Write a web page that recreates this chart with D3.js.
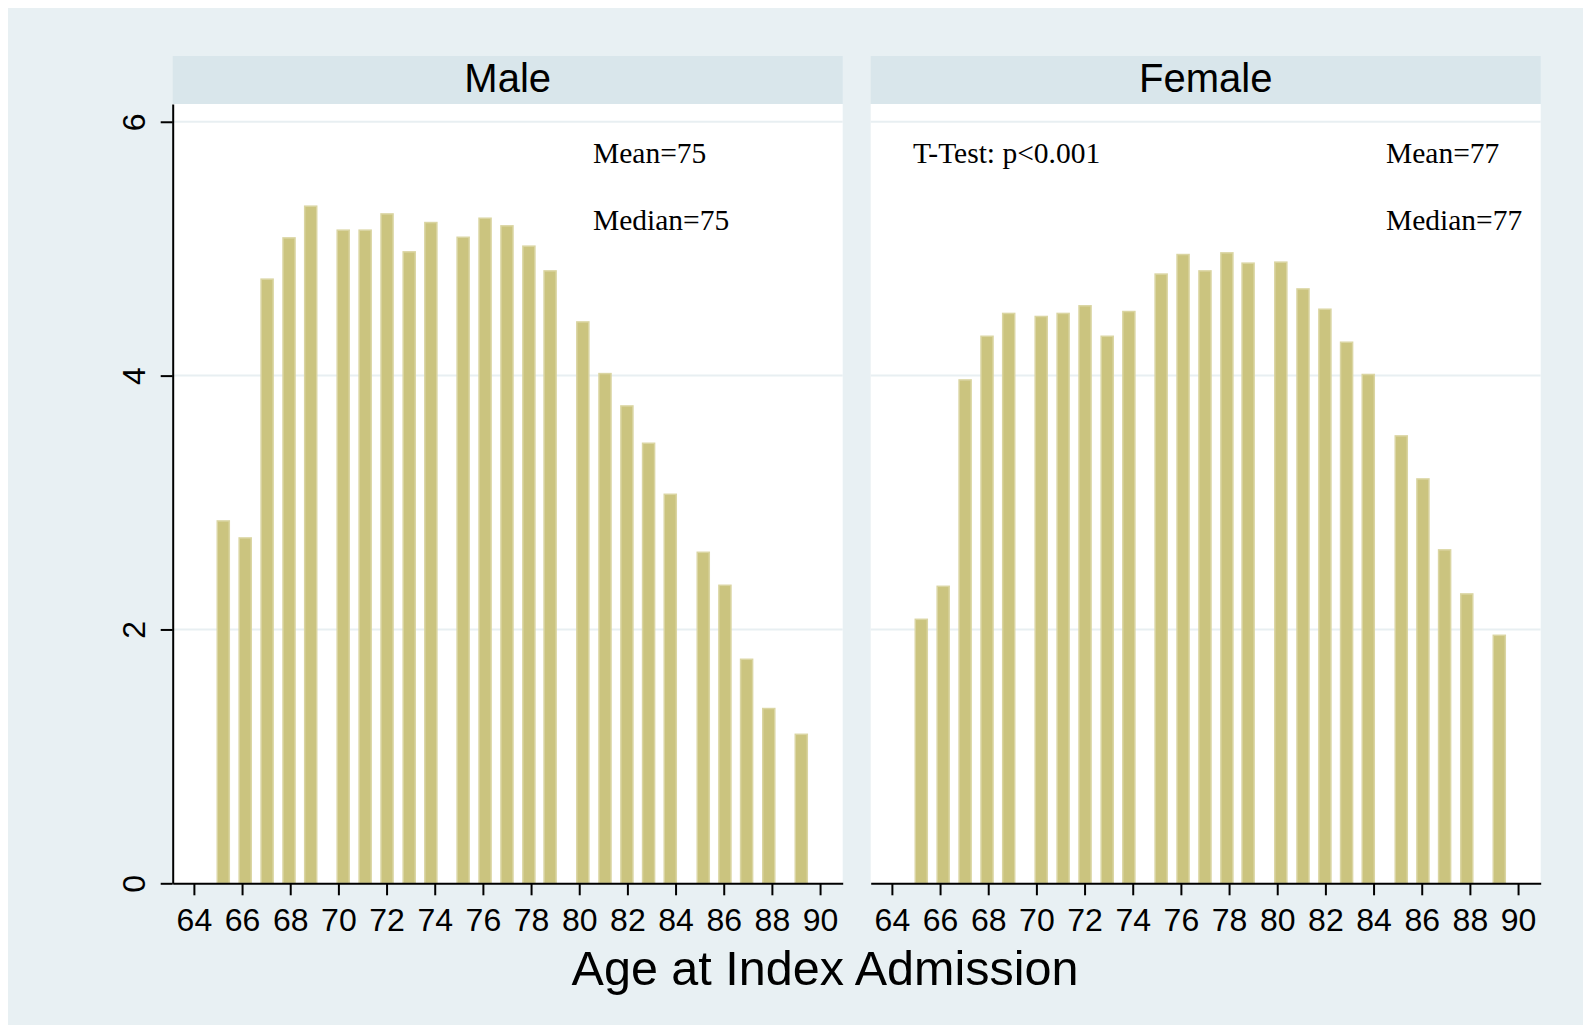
<!DOCTYPE html>
<html>
<head>
<meta charset="utf-8">
<title>Age at Index Admission</title>
<script src="https://d3js.org/d3.v7.min.js"></script>
<style>
  html, body { margin: 0; padding: 0; background: #fff; }
  svg { display: block; }
</style>
</head>
<body>
<div id="chart"></div>
<script>
// bin centres (age), shared by both panels
var binMid = [65.22, 66.13, 67.04, 67.95, 68.85, 70.2, 71.11, 72.02, 72.94, 73.84,
              75.18, 76.09, 77.0, 77.91, 78.79, 80.15, 81.07, 81.98, 82.88, 83.78,
              85.15, 86.05, 86.95, 87.87, 89.22];

// percent per bin
var maleVals = [2.855, 2.721, 4.76, 5.085, 5.335, 5.146, 5.146, 5.274, 4.975, 5.206,
                5.09, 5.24, 5.18, 5.02, 4.825, 4.423, 4.016, 3.761, 3.467, 3.065,
                2.608, 2.348, 1.765, 1.377, 1.174];
var femaleVals = [2.08, 2.34, 3.966, 4.31, 4.49, 4.466, 4.49, 4.55, 4.31, 4.505,
                  4.80, 4.954, 4.825, 4.967, 4.886, 4.894, 4.683, 4.523, 4.263, 4.009,
                  3.525, 3.186, 2.627, 2.28, 1.954];

var xTicks = [64, 66, 68, 70, 72, 74, 76, 78, 80, 82, 84, 86, 88, 90];
var yTicks = [0, 2, 4, 6];

var panels = [
  {name: "Male", values: maleVals, notes: [
    {text: "Mean=75", x: 593, y: 163},
    {text: "Median=75", x: 593, y: 230}]},
  {name: "Female", values: femaleVals, notes: [
    {text: "T-Test: p<0.001", x: 913, y: 163},
    {text: "Mean=77", x: 1386, y: 163},
    {text: "Median=77", x: 1386, y: 230}]}
];

var W = 1583, H = 1025;
var plotTop = 104, plotBottom = 883.3, stripTop = 56;
var panelX = [172.7, 870.7], panelW = 670;
var barW = 0.5; // bar width in years

var svg = d3.select("#chart").append("svg")
  .attr("width", W).attr("height", H);

// outer background
svg.append("rect").attr("x", 8).attr("y", 8)
  .attr("width", W - 8).attr("height", H - 8)
  .attr("fill", "#e8f0f3");

var y = d3.scaleLinear().domain([0, 6.14]).range([plotBottom, plotTop]);

panels.forEach(function(p, i) {
  var x0 = panelX[i];
  var x = d3.scaleLinear().domain([63.12, 90.94]).range([x0, x0 + panelW]);

  // strip
  svg.append("rect").attr("x", x0).attr("y", stripTop)
    .attr("width", panelW).attr("height", plotTop - stripTop)
    .attr("fill", "#d9e6eb");
  svg.append("text").attr("x", x0 + panelW / 2).attr("y", 92)
    .attr("text-anchor", "middle")
    .style("font-family", "Liberation Sans, Arial, sans-serif")
    .style("font-size", "40px").attr("fill", "#000")
    .text(p.name);

  // plot area
  svg.append("rect").attr("x", x0).attr("y", plotTop)
    .attr("width", panelW).attr("height", plotBottom - plotTop)
    .attr("fill", "#fff");

  // grid lines
  svg.append("g").selectAll("line")
    .data(yTicks.filter(function(d) { return d > 0; }))
    .join("line")
      .attr("x1", x0).attr("x2", x0 + panelW)
      .attr("y1", function(d) { return y(d); })
      .attr("y2", function(d) { return y(d); })
      .attr("stroke", "#e8eff2").attr("stroke-width", 2);

  // bars
  svg.append("g").selectAll("rect")
    .data(p.values)
    .join("rect")
      .attr("x", function(d, j) { return x(binMid[j] - barW / 2); })
      .attr("width", function(d, j) { return x(binMid[j] + barW / 2) - x(binMid[j] - barW / 2); })
      .attr("y", function(d) { return y(d); })
      .attr("height", function(d) { return y(0) - y(d); })
      .attr("fill", "#cbc47f")
      .attr("stroke", "#dad5a2").attr("stroke-width", 1.5);

  // x axis
  var xAxis = svg.append("g")
    .attr("transform", "translate(0," + plotBottom + ")")
    .call(d3.axisBottom(x).tickValues(xTicks).tickSize(12).tickPadding(13).tickSizeOuter(0));
  xAxis.select(".domain").attr("stroke", "#000").attr("stroke-width", 2);
  xAxis.selectAll(".tick line").attr("stroke", "#000").attr("stroke-width", 2);
  xAxis.selectAll(".tick text")
    .style("font-family", "Liberation Sans, Arial, sans-serif")
    .style("font-size", "32px").attr("fill", "#000");

  // y axis only on first panel
  if (i === 0) {
    var yAxis = svg.append("g")
      .attr("transform", "translate(" + x0 + ",0)")
      .call(d3.axisLeft(y).tickValues(yTicks).tickSize(12).tickSizeOuter(0).tickFormat(d3.format("d")));
    yAxis.select(".domain").attr("stroke", "#000").attr("stroke-width", 2);
    yAxis.selectAll(".tick line").attr("stroke", "#000").attr("stroke-width", 2);
    yAxis.selectAll(".tick text")
      .attr("x", null).attr("dy", null)
      .attr("transform", "translate(-28,0) rotate(-90)")
      .attr("text-anchor", "middle")
      .style("font-family", "Liberation Sans, Arial, sans-serif")
      .style("font-size", "32px").attr("fill", "#000");
  }

  // annotations
  svg.append("g").selectAll("text")
    .data(p.notes)
    .join("text")
      .attr("x", function(d) { return d.x; })
      .attr("y", function(d) { return d.y; })
      .style("font-family", "Liberation Serif, Times New Roman, serif")
      .style("font-size", "29.5px").attr("fill", "#000")
      .text(function(d) { return d.text; });
});

// x title
svg.append("text").attr("x", 825).attr("y", 985)
  .attr("text-anchor", "middle")
  .style("font-family", "Liberation Sans, Arial, sans-serif")
  .style("font-size", "48.5px").attr("fill", "#000")
  .text("Age at Index Admission");
</script>
</body>
</html>
